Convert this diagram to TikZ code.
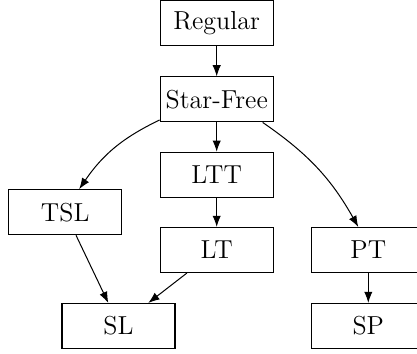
\documentclass[tikz,border=0pt]{standalone}
\usetikzlibrary{arrows.meta}
\begin{document}
\begin{tikzpicture}[x=0.5pt,y=-0.5pt,
  cls/.style={draw,line width=0.55pt,minimum width=56.5pt,minimum height=22.5pt,
    inner sep=0pt,font=\fontsize{13}{15}\selectfont},
  arr/.style={-{Latex[length=5.6pt,width=4.2pt]},line width=0.5pt}]
\useasboundingbox (0,0) rectangle (417,353);
% language classes
\node[cls] (reg) at (216.7,23.3)  {Regular};
\node[cls] (sf)  at (216.7,99.4)  {Star-Free};
\node[cls] (ltt) at (216.7,174.8) {LTT};
\node[cls] (lt)  at (216.7,250)   {LT};
\node[cls] (tsl) at (65.2,212.2)  {TSL};
\node[cls] (sl)  at (118.5,326)   {SL};
\node[cls] (pt)  at (368.3,250)   {PT};
\node[cls] (sp)  at (368.3,326)   {SP};
% inclusions
\draw[arr] (reg) -- (sf);
\draw[arr] (sf) -- (ltt);
\draw[arr] (ltt) -- (lt);
\draw[arr] (pt) -- (sp);
\draw[arr] ([shift={(0,-2.5)}]sf.south west) to[bend right=15] ([shift={(14,0)}]tsl.north);
\draw[arr] ([shift={(46,0)}]sf.south) to[bend left=13] ([shift={(-10,0)}]pt.north);
\draw[arr] ([shift={(10.8,0)}]tsl.south) -- ([shift={(-10.2,0)}]sl.north);
\draw[arr] ([shift={(-29.8,0)}]lt.south) -- ([shift={(29.8,0)}]sl.north);
\end{tikzpicture}
\end{document}
